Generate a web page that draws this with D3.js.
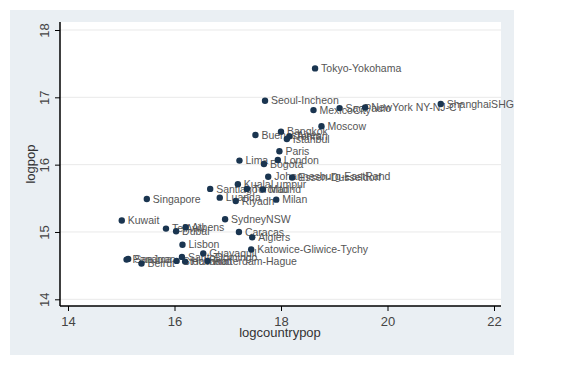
<!DOCTYPE html>
<html><head><meta charset="utf-8">
<script src="https://cdn.jsdelivr.net/npm/d3@7"></script>
<style>body{margin:0;background:#fff;}svg{display:block;font-family:"Liberation Sans",Arial,sans-serif;}</style>
</head><body>
<svg id="c" width="563" height="366"></svg>
<script>
const cities = ["Tokyo-Yokohama","Seoul-Incheon","MexicoCity","SaoPaulo","NewYork NY-NJ-CT","ShanghaiSHG","Moscow","Bangkok","BuenosAires","Tehran","Istanbul","Paris","London","Lima","Bogota","Johannesburg-EastRand","Essen-Dusseldorf","KualaLumpur","Santiago","Toronto","Madrid","Luanda","Riyadh","Milan","Singapore","Kuwait","SydneyNSW","TelAviv","Athens","Dubai","Caracas","Algiers","Lisbon","Katowice-Gliwice-Tychy","Guayaquil","SantoDomingo","Panama","SanJuan","Beirut","Stockholm","Havana","Rotterdam-Hague"];
const logcountrypop = [18.64,17.70,18.61,19.10,19.58,21.00,18.76,18.00,17.52,18.16,18.11,17.97,17.94,17.22,17.68,17.76,18.21,17.19,16.67,17.36,17.66,16.85,17.15,17.91,15.48,15.01,16.95,15.84,16.21,16.03,17.21,17.46,16.15,17.44,16.54,16.14,15.10,15.13,15.38,16.04,16.20,16.62];
const logpop = [17.43,16.95,16.81,16.84,16.85,16.90,16.57,16.49,16.44,16.42,16.38,16.20,16.07,16.06,16.01,15.82,15.81,15.71,15.64,15.64,15.63,15.51,15.46,15.48,15.49,15.17,15.19,15.05,15.07,15.01,15.00,14.92,14.81,14.74,14.68,14.63,14.59,14.60,14.53,14.57,14.56,14.57];
const xTicks = [14,16,18,20,22];
const yTicks = [14,15,16,17,18];

const svg = d3.select("#c");
svg.append("rect").attr("x",10).attr("y",10).attr("width",504).attr("height",345).attr("fill","#eaeff3");
const L=60,R=501,T=22,B=306;
svg.append("rect").attr("x",L).attr("y",T).attr("width",R-L).attr("height",B-T).attr("fill","#fff");

const x = d3.scaleLinear().domain([14,22]).range([68,494]);
const y = d3.scaleLinear().domain([14,18]).range([299.3,30]);

// grid
svg.append("g").selectAll("line").data(yTicks).join("line")
  .attr("x1",L).attr("x2",R).attr("y1",d=>y(d)).attr("y2",d=>y(d))
  .attr("stroke","#e9e9e9").attr("stroke-width",1);

// x axis
const gx = svg.append("g").attr("transform",`translate(0,${B})`)
  .call(d3.axisBottom(x).tickValues(xTicks).tickSize(5).tickPadding(6).tickFormat(d3.format("d")));
gx.select(".domain").attr("d",`M${L},0H${R}`).attr("stroke","#000").attr("stroke-width",1.5);
gx.selectAll(".tick line").attr("stroke","#000");
gx.selectAll(".tick text").attr("fill","#444").attr("font-size",13).attr("font-family","Liberation Sans, Arial, sans-serif");

// y axis
const gy = svg.append("g").attr("transform",`translate(${L},0)`)
  .call(d3.axisLeft(y).tickValues(yTicks).tickSize(5).tickFormat(d3.format("d")));
gy.select(".domain").attr("d",`M0,${T}V${B}`).attr("stroke","#000").attr("stroke-width",1.5);
gy.selectAll(".tick line").attr("stroke","#000");
gy.selectAll(".tick text").attr("fill","#444").attr("font-size",13).attr("font-family","Liberation Sans, Arial, sans-serif")
  .attr("transform","translate(-16,0) rotate(-90)").attr("x",0).attr("dy","0.35em").attr("text-anchor","middle");

// titles
svg.append("text").attr("x",(L+R)/2 - 0.5).attr("y",337).attr("text-anchor","middle")
  .attr("font-size",13).attr("fill","#333").text("logcountrypop");
svg.append("text").attr("transform",`translate(35,${(T+B)/2}) rotate(-90)`).attr("text-anchor","middle")
  .attr("font-size",13).attr("fill","#333").text("logpop");

const data = cities.map((c,i)=>({c, x:logcountrypop[i], y:logpop[i]}));
const g = svg.append("g");
g.selectAll("text").data(data).join("text")
  .attr("x",d=>x(d.x)+6).attr("y",d=>y(d.y)).attr("dy","0.35em")
  .attr("font-size",10.5).attr("fill","#555").text(d=>d.c);
g.selectAll("circle").data(data).join("circle")
  .attr("cx",d=>x(d.x)).attr("cy",d=>y(d.y)).attr("r",3.2)
  .attr("fill","#1a3550");
</script>
</body></html>
